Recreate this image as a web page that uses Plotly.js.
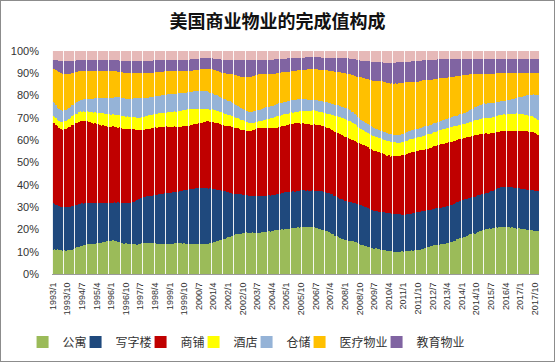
<!DOCTYPE html>
<html><head><meta charset="utf-8">
<script src="https://cdn.plot.ly/plotly-3.0.1.min.js"></script>
<style>html,body{margin:0;padding:0;background:#fff}#chart{width:555px;height:362px;box-sizing:border-box;border:1px solid #8c8c8c;}</style>
</head><body><div id="chart"></div><script>
// categories: monthly, 1993/1 .. 2017/12
var years = [1993,1994,1995,1996,1997,1998,1999,2000,2001,2002,2003,2004,2005,2006,2007,2008,2009,2010,2011,2012,2013,2014,2015,2016,2017];
var months = [];
years.forEach(function(y){ for (var m = 1; m <= 12; m++) months.push(y + '/' + m); });

var tickLabels = ['1993/1','1993/10','1994/7','1995/4','1996/1','1996/10','1997/7','1998/4','1999/1','1999/10','2000/7','2001/4','2002/1','2002/10','2003/7','2004/4','2005/1','2005/10','2006/7','2007/4','2008/1','2008/10','2009/7','2010/4','2011/1','2011/10','2012/7','2013/4','2014/1','2014/10','2015/7','2016/4','2017/1','2017/10'];

var seriesNames = ['公寓','写字楼','商铺','酒店','仓储','医疗物业','教育物业','其他'];

var apartment = [
11.0,11.3,10.8,11.2,10.7,10.8,10.4,10.7,10.3,10.6,10.6,10.9,
10.9,11.4,11.5,12.0,12.1,12.6,12.6,13.0,13.0,13.3,13.3,13.6,
13.5,13.6,13.6,13.9,13.8,14.1,13.9,14.3,14.3,14.7,14.7,15.0,
14.9,15.2,14.8,14.8,14.4,14.3,13.9,13.9,13.6,13.7,13.4,13.5,
13.4,13.5,13.5,13.6,13.2,13.5,13.4,13.8,13.7,14.0,13.9,14.2,
13.9,14.0,13.7,13.8,13.5,13.6,13.4,13.5,13.4,13.7,13.4,13.5,
13.4,13.7,13.6,13.9,13.8,14.1,13.9,14.0,13.7,13.8,13.5,13.6,
13.4,13.5,13.2,13.5,13.4,13.6,13.4,13.5,13.2,13.5,13.4,13.6,
13.6,14.0,14.0,14.4,14.4,14.8,14.9,15.3,15.4,15.8,15.9,16.3,
16.4,16.8,16.8,17.2,17.3,17.7,17.7,18.1,18.1,18.5,18.4,18.7,
18.4,18.5,18.4,18.7,18.3,18.6,18.5,18.6,18.5,18.8,18.7,19.0,
18.9,19.2,19.1,19.4,19.3,19.6,19.5,19.8,19.7,20.0,19.9,20.2,
20.1,20.4,20.2,20.5,20.4,20.7,20.6,20.9,20.8,21.1,20.9,21.2,
21.0,21.3,21.0,21.1,20.9,21.0,20.6,20.7,20.3,20.3,19.9,19.8,
19.3,19.2,18.7,18.6,18.0,17.8,17.2,17.0,16.4,16.3,15.7,15.6,
15.1,15.1,14.8,14.9,14.6,14.7,14.4,14.3,13.8,13.7,13.2,13.1,
12.7,12.7,12.3,12.3,11.9,11.9,11.5,11.5,11.1,11.1,10.8,10.9,
10.6,10.7,10.4,10.5,10.2,10.3,10.0,10.1,9.9,10.1,9.8,10.1,
9.9,10.2,10.1,10.4,10.3,10.6,10.5,10.8,10.7,11.0,10.9,11.3,
11.3,11.7,11.7,12.1,12.1,12.5,12.5,12.9,12.9,13.2,13.1,13.4,
13.3,13.6,13.6,14.0,14.0,14.4,14.4,14.9,15.0,15.5,15.6,16.1,
16.2,16.7,16.8,17.3,17.4,17.8,17.8,18.2,18.2,18.6,18.7,19.2,
19.3,19.8,19.9,20.2,20.1,20.4,20.3,20.6,20.5,20.8,20.7,21.0,
20.9,21.1,21.0,21.1,20.9,21.1,20.8,20.9,20.6,20.7,20.4,20.5,
20.2,20.3,20.0,20.1,19.8,19.9,19.6,19.7,19.4,19.4,19.1,19.1];

var office = [
21.0,20.7,20.5,19.9,19.9,19.5,19.6,19.3,19.6,19.5,19.6,19.3,
19.6,19.3,19.4,19.1,19.2,18.9,19.0,18.7,18.8,18.6,18.7,18.4,
18.5,18.3,18.4,18.1,18.2,17.9,18.1,17.8,17.8,17.4,17.4,17.0,
17.1,16.9,17.3,17.3,17.7,17.7,18.1,17.9,18.2,18.1,18.4,18.3,
18.6,18.7,19.2,19.4,19.9,20.1,20.6,20.5,20.8,20.7,21.0,20.9,
21.1,21.1,21.6,21.7,22.1,22.2,22.6,22.5,22.8,22.7,23.0,22.9,
23.1,22.9,23.1,22.9,23.1,22.9,23.1,23.1,23.6,23.6,24.1,24.1,
24.6,24.5,24.8,24.7,25.0,24.9,25.1,24.9,25.1,24.9,25.1,24.9,
24.8,24.3,24.2,23.7,23.6,23.0,22.8,22.2,22.0,21.4,21.1,20.5,
20.3,19.7,19.5,18.9,18.6,18.2,18.1,17.6,17.5,17.1,17.1,16.8,
16.9,16.6,16.6,16.4,16.6,16.5,16.6,16.4,16.5,16.2,16.3,16.0,
16.1,15.9,16.1,15.9,16.1,15.9,16.2,16.1,16.4,16.3,16.6,16.4,
16.6,16.4,16.6,16.4,16.6,16.4,16.6,16.4,16.6,16.4,16.6,16.4,
16.6,16.4,16.6,16.4,16.6,16.5,16.8,16.7,17.0,16.9,17.1,17.0,
17.3,17.2,17.5,17.4,17.6,17.4,17.6,17.4,17.6,17.4,17.6,17.4,
17.6,17.4,17.6,17.4,17.6,17.4,17.6,17.4,17.6,17.4,17.6,17.4,
17.5,17.2,17.3,17.0,17.1,16.9,17.1,16.9,17.1,16.9,17.1,16.9,
17.1,16.9,17.1,16.9,17.1,16.9,17.1,16.9,17.0,16.7,16.8,16.5,
16.6,16.4,16.6,16.4,16.6,16.4,16.7,16.6,16.9,16.8,17.1,16.8,
16.9,16.6,16.7,16.4,16.6,16.4,16.6,16.4,16.6,16.4,16.6,16.4,
16.6,16.4,16.6,16.4,16.6,16.4,16.6,16.5,16.8,16.7,17.0,16.9,
17.0,16.7,16.8,16.5,16.6,16.4,16.6,16.4,16.6,16.4,16.6,16.3,
16.4,16.1,16.2,15.9,16.3,16.3,16.7,16.7,17.1,17.1,17.5,17.5,
17.9,17.9,18.1,17.9,18.1,17.9,18.1,17.9,18.1,17.9,18.1,17.9,
18.1,17.9,18.1,17.9,18.1,17.9,18.1,17.9,18.1,17.9,18.1,17.9];

var retail = [
36.5,36.8,36.2,35.9,35.5,35.3,35.0,35.4,35.1,35.5,35.8,36.2,
36.5,36.3,36.9,36.6,37.2,37.0,36.7,37.1,36.5,36.8,36.2,36.0,
35.8,35.5,35.9,35.2,35.0,34.7,34.5,34.9,34.3,34.6,34.0,34.2,
34.0,34.3,33.8,34.1,33.6,33.9,33.5,33.2,33.6,33.1,33.4,33.0,
33.0,32.5,32.8,32.0,31.6,31.2,30.5,30.8,30.3,30.7,30.4,30.6,
30.5,30.8,30.2,30.5,30.1,30.4,30.0,29.7,30.1,29.8,29.6,29.9,
29.5,29.8,29.3,29.6,29.1,29.4,29.0,28.7,29.1,28.8,28.5,28.9,
28.5,28.8,28.4,28.9,28.7,29.2,29.0,29.4,29.3,29.7,29.5,30.0,
30.2,29.9,30.3,30.0,29.7,30.1,29.8,29.5,29.9,29.6,29.4,29.7,
29.5,29.8,29.3,29.6,29.5,29.2,29.4,29.1,29.0,29.3,29.2,28.9,
29.0,28.8,29.2,29.5,29.8,30.1,30.3,30.5,30.2,30.6,30.4,30.7,
30.5,30.3,30.7,30.2,30.4,30.0,29.8,30.2,29.9,30.1,30.0,29.7,
30.0,30.3,30.1,30.5,30.2,30.6,30.4,30.1,30.3,29.9,30.0,29.8,
30.1,29.7,29.9,29.6,29.5,29.8,29.4,29.7,29.3,29.6,29.5,29.2,
29.4,29.1,29.0,29.3,28.9,29.2,29.0,28.7,29.1,28.8,28.6,28.9,
28.7,28.5,28.2,28.4,27.9,28.1,27.5,27.8,27.4,27.7,27.3,27.6,
27.5,27.2,27.4,27.0,27.3,26.9,27.1,26.8,26.5,26.7,26.3,26.5,
26.0,25.8,25.5,25.7,25.4,25.9,25.6,26.0,25.8,26.2,26.0,26.4,
26.6,26.9,27.0,27.3,27.1,27.5,27.3,27.6,27.4,27.7,27.5,27.3,
27.6,27.4,27.7,27.5,27.8,27.6,27.9,28.1,27.8,28.2,28.0,28.3,
28.5,28.2,28.6,28.4,28.7,28.5,28.3,28.6,28.2,27.9,28.1,27.7,
27.5,27.8,27.4,27.7,27.5,27.3,27.6,27.4,27.7,27.5,27.2,27.4,
27.1,27.3,27.0,26.8,26.5,26.2,26.0,25.8,25.5,25.3,25.1,25.0,
25.0,24.8,25.1,24.9,25.2,25.0,24.9,25.2,25.4,25.3,25.6,25.5,
25.8,25.6,26.0,25.8,26.1,25.9,26.2,25.8,26.0,25.7,25.5,25.3];

var hotel = [
3.0,2.8,3.1,2.9,3.2,3.4,3.5,3.3,3.6,3.4,3.7,3.9,
4.0,4.1,3.9,4.3,4.2,4.5,4.4,4.6,4.3,4.5,4.7,4.5,
4.6,4.8,4.9,5.1,5.0,5.3,5.5,5.2,5.6,5.4,5.7,5.5,
5.5,5.3,5.6,5.4,5.7,5.5,5.5,5.8,5.6,5.4,5.7,5.5,
5.5,5.2,5.4,5.7,5.5,5.3,5.5,5.8,5.6,5.9,5.7,6.0,
6.0,5.8,6.1,5.9,6.2,6.0,6.0,6.3,6.1,6.4,6.2,6.5,
6.5,6.6,6.8,6.7,6.9,7.0,7.0,7.1,7.3,7.2,7.4,7.5,
7.5,7.4,7.2,7.0,6.9,6.7,6.5,6.3,6.1,5.9,5.7,5.5,
5.6,5.4,5.5,5.7,5.5,5.6,5.4,5.5,5.6,5.4,5.5,5.3,
5.2,5.1,5.0,5.0,4.9,4.7,4.5,4.4,4.2,4.1,4.0,3.9,
3.8,3.7,3.5,3.4,3.3,3.2,3.1,3.0,3.1,3.3,3.5,3.7,
3.9,4.0,4.2,4.4,4.6,4.8,5.0,5.1,5.0,4.9,5.0,5.1,
5.0,4.9,5.0,5.1,5.0,5.1,5.2,5.3,5.4,5.5,5.5,5.6,
5.8,6.0,6.2,6.4,6.5,6.4,6.3,6.1,6.0,6.0,6.0,6.1,
6.2,6.3,6.4,6.5,6.7,6.9,7.1,7.3,7.5,7.6,7.7,7.8,
7.9,8.0,8.0,7.9,7.8,7.7,7.5,7.3,7.1,6.9,6.7,6.5,
6.6,6.4,6.5,6.7,6.4,6.6,6.5,6.3,6.6,6.4,6.5,6.6,
6.4,6.6,6.5,6.3,6.6,6.4,6.3,6.2,6.1,6.0,6.1,5.9,
6.0,6.1,5.9,6.0,6.2,5.9,6.0,6.1,5.9,6.0,6.1,6.1,
6.2,6.3,6.4,6.5,6.4,6.6,6.5,6.4,6.6,6.5,6.4,6.6,
6.5,6.4,6.6,6.5,6.3,6.6,6.5,6.4,6.6,6.5,6.4,6.6,
6.5,6.4,6.6,6.5,6.4,6.6,6.5,6.4,6.6,6.6,6.7,6.8,
6.9,7.0,7.1,6.9,7.0,7.1,6.9,7.0,7.1,7.2,7.3,7.4,
7.5,7.4,7.6,7.5,7.4,7.6,7.6,7.7,7.8,7.9,8.0,7.9,
7.8,7.7,7.6,7.5,7.4,7.3,7.2,7.1,7.0,6.9,6.7,6.5];

var warehouse = [
6.5,6.2,5.9,5.6,5.4,5.2,5.0,5.0,4.9,5.0,5.0,5.1,
5.0,4.9,5.0,5.1,5.0,5.0,5.2,5.3,5.5,5.6,5.8,6.0,
6.1,6.3,6.4,6.6,6.7,6.9,7.0,7.1,7.2,7.3,7.4,7.5,
7.5,7.6,7.7,7.8,7.9,8.0,8.0,8.0,8.1,8.0,7.9,8.0,
8.0,8.2,8.4,8.6,8.8,9.0,9.0,8.8,8.6,8.4,8.2,8.0,
8.0,8.1,7.9,8.0,8.1,8.0,7.9,8.0,8.1,8.0,7.9,8.0,
8.0,8.1,7.9,8.0,8.1,8.0,8.0,7.9,7.8,7.7,7.6,7.5,
7.5,7.6,7.7,7.8,7.9,8.0,8.0,8.1,8.0,7.9,8.0,8.0,
7.8,7.6,7.4,7.2,7.0,6.9,6.8,6.7,6.6,6.5,6.5,6.4,
6.3,6.2,6.1,6.0,6.0,5.8,5.6,5.4,5.2,5.0,5.0,5.0,
5.0,5.0,4.9,5.0,5.1,5.0,5.0,5.1,5.2,5.3,5.4,5.5,
5.5,5.4,5.5,5.6,5.5,5.5,5.4,5.5,5.6,5.5,5.4,5.5,
5.5,5.6,5.5,5.4,5.5,5.6,5.5,5.4,5.5,5.6,5.5,5.4,
5.3,5.1,4.9,4.7,4.5,4.6,4.7,4.8,4.9,5.0,5.0,5.0,
5.0,5.1,5.0,4.9,5.0,5.1,5.0,4.9,5.0,5.1,5.0,5.0,
5.0,5.0,5.0,4.9,4.8,4.7,4.6,4.5,4.4,4.3,4.2,4.1,
4.0,4.0,4.0,4.0,4.0,3.9,3.8,3.7,3.6,3.5,3.5,3.5,
3.5,3.6,3.5,3.4,3.5,3.6,3.5,3.4,3.5,3.6,3.5,3.5,
3.5,3.6,3.7,3.8,3.9,4.0,4.0,4.1,4.0,3.9,4.0,4.0,
4.0,4.1,4.0,3.9,4.0,4.1,4.0,3.9,4.0,4.1,4.0,4.0,
4.0,4.0,4.1,4.2,4.3,4.4,4.5,4.5,4.5,4.5,4.5,4.6,
4.7,4.8,4.9,5.0,5.1,5.3,5.5,5.7,5.8,6.0,6.1,6.2,
6.3,6.4,6.5,6.5,6.5,6.5,6.5,6.5,6.4,6.3,6.2,6.1,
6.0,6.1,6.2,6.3,6.4,6.5,6.6,6.7,6.8,6.9,7.0,7.2,
7.5,7.8,8.1,8.5,8.8,9.1,9.4,9.7,10.0,10.5,11.0,11.5];

var medical = [
15.0,15.5,16.0,16.5,16.6,16.7,16.5,16.2,15.8,15.5,15.2,14.9,
14.5,14.2,13.9,13.6,13.3,13.0,12.9,12.8,12.7,12.6,12.5,12.5,
12.4,12.4,12.3,12.3,12.2,12.1,12.0,12.0,12.0,12.0,12.0,12.0,
12.0,11.9,11.8,11.7,11.6,11.6,11.5,11.5,11.5,11.5,11.5,11.5,
11.5,11.4,11.3,11.2,11.1,11.0,11.0,11.0,11.0,11.0,11.0,11.0,
11.0,10.9,10.8,10.7,10.6,10.5,10.5,10.5,10.5,10.5,10.5,10.5,
10.5,10.4,10.3,10.2,10.1,10.0,10.0,9.9,9.8,9.7,9.6,9.5,
9.5,9.5,9.5,9.5,9.5,9.5,9.5,9.6,9.7,9.8,9.9,10.0,
10.2,10.4,10.6,10.8,11.0,11.1,11.2,11.3,11.4,11.5,11.5,11.7,
12.0,12.2,12.5,12.8,13.0,13.3,13.6,14.0,14.3,14.7,15.0,15.3,
15.5,15.8,16.0,16.0,16.0,16.0,16.0,16.0,15.7,15.4,15.1,14.8,
14.5,14.4,14.3,14.2,14.1,14.0,13.9,13.8,13.7,13.6,13.5,13.4,
13.3,13.2,13.1,13.0,13.0,13.0,13.0,13.0,13.0,13.0,13.0,13.2,
13.4,13.6,13.8,14.0,14.0,14.0,14.0,14.0,14.0,14.0,14.0,14.1,
14.2,14.3,14.4,14.5,14.6,14.7,14.8,14.9,15.0,15.1,15.2,15.3,
15.4,15.5,15.8,16.1,16.4,16.7,17.0,17.5,18.0,18.5,19.0,19.5,
19.7,19.9,20.1,20.3,20.5,20.8,21.1,21.4,21.7,22.0,22.1,22.2,
22.3,22.4,22.5,22.6,22.7,22.8,22.9,23.0,23.0,23.0,23.0,23.0,
23.0,22.7,22.4,22.1,21.8,21.5,21.4,21.3,21.2,21.1,21.0,20.9,
20.8,20.7,20.6,20.5,20.3,20.1,19.9,19.7,19.5,19.4,19.3,19.2,
19.1,19.0,18.8,18.6,18.4,18.2,18.0,17.9,17.8,17.7,17.6,17.5,
17.3,17.1,16.9,16.7,16.5,16.1,15.7,15.3,14.9,14.5,14.2,13.9,
13.6,13.3,13.0,13.0,13.0,13.0,13.0,13.0,12.9,12.8,12.7,12.6,
12.5,12.4,12.3,12.2,12.1,12.0,11.8,11.6,11.4,11.2,11.0,10.8,
10.6,10.4,10.2,10.0,9.9,9.8,9.7,9.6,9.5,9.5,9.5,9.5];

var education = [
4.0,4.3,4.6,5.0,5.3,5.6,6.0,6.0,6.0,6.0,5.9,5.7,
5.5,5.4,5.3,5.2,5.1,5.0,5.0,5.0,5.0,5.0,5.0,5.0,
5.0,5.0,5.0,5.0,5.0,5.0,5.0,5.0,5.0,5.0,5.0,5.0,
5.0,5.0,5.0,5.0,5.0,5.0,5.0,5.1,5.2,5.3,5.4,5.5,
5.5,5.5,5.5,5.5,5.5,5.5,5.5,5.5,5.5,5.5,5.5,5.5,
5.5,5.5,5.5,5.5,5.5,5.5,5.5,5.4,5.3,5.2,5.1,5.0,
5.0,5.0,5.0,5.0,5.0,5.0,5.0,5.0,5.0,5.0,5.0,5.0,
5.0,5.0,5.0,5.0,5.0,5.0,5.0,5.0,5.0,5.0,5.0,5.0,
5.0,5.0,5.0,5.0,5.0,5.2,5.4,5.6,5.8,6.0,6.0,6.1,
6.2,6.3,6.4,6.5,6.6,6.8,7.0,7.2,7.4,7.5,7.5,7.5,
7.5,7.5,7.5,7.3,7.1,6.9,6.7,6.5,6.5,6.5,6.5,6.5,
6.5,6.5,6.5,6.5,6.5,6.5,6.4,6.3,6.2,6.1,6.0,6.0,
6.0,6.0,6.0,6.0,6.0,5.9,5.8,5.7,5.6,5.5,5.5,5.5,
5.5,5.5,5.5,5.5,5.5,5.5,5.5,5.5,5.5,5.5,5.5,5.5,
5.6,5.7,5.8,5.9,6.0,6.1,6.2,6.3,6.4,6.5,6.6,6.7,
6.8,6.9,7.0,7.1,7.2,7.3,7.4,7.5,7.5,7.5,7.5,7.5,
7.6,7.8,8.0,8.2,8.4,8.5,8.5,8.5,8.5,8.5,8.5,8.6,
8.7,8.8,8.9,9.0,9.1,9.2,9.3,9.4,9.5,9.5,9.4,9.3,
9.2,9.1,9.0,9.1,9.2,9.3,9.4,9.5,9.4,9.3,9.2,9.1,
9.0,9.0,9.0,9.0,9.0,9.0,8.9,8.8,8.7,8.6,8.5,8.5,
8.5,8.5,8.5,8.4,8.3,8.2,8.1,8.0,7.9,7.8,7.7,7.6,
7.5,7.4,7.3,7.2,7.1,7.0,7.0,7.0,7.0,7.0,7.0,7.0,
7.0,7.0,7.0,7.0,7.0,6.9,6.8,6.7,6.6,6.5,6.5,6.5,
6.5,6.5,6.5,6.5,6.5,6.5,6.5,6.5,6.5,6.5,6.5,6.5,
6.5,6.5,6.5,6.5,6.5,6.5,6.5,6.5,6.5,6.5,6.5,6.5];

var other = [
4.0,4.0,4.1,4.2,4.3,4.4,4.5,4.5,4.5,4.5,4.5,4.5,
4.5,4.4,4.3,4.2,4.1,4.0,4.0,4.0,4.0,4.0,4.0,4.0,
4.0,4.0,4.0,4.0,4.0,4.0,4.0,4.0,4.0,4.0,4.0,4.0,
4.0,4.0,4.0,4.1,4.2,4.3,4.4,4.5,4.5,4.5,4.5,4.5,
4.5,4.5,4.5,4.5,4.5,4.5,4.5,4.5,4.5,4.5,4.5,4.5,
4.4,4.3,4.2,4.1,4.0,4.0,4.0,4.0,4.0,4.0,4.0,4.0,
4.0,4.0,4.0,4.0,4.0,4.0,4.0,4.0,4.0,4.0,4.0,4.0,
3.9,3.8,3.7,3.6,3.5,3.5,3.4,3.3,3.2,3.1,3.0,3.0,
3.1,3.2,3.3,3.4,3.5,3.6,3.7,3.8,3.9,4.0,4.0,4.0,
4.0,4.0,4.0,4.0,4.0,4.0,4.0,4.0,4.0,4.0,4.0,4.0,
4.0,4.0,4.0,4.0,4.0,4.0,4.0,4.0,4.0,4.0,4.0,4.0,
4.0,4.0,4.0,4.0,4.0,3.8,3.6,3.5,3.5,3.5,3.5,3.5,
3.4,3.3,3.2,3.1,3.0,3.0,3.0,3.0,3.0,3.0,3.0,3.0,
2.9,2.8,2.7,2.6,2.5,2.5,2.6,2.7,2.8,2.9,3.0,3.0,
3.0,3.0,3.0,3.0,3.0,3.0,3.0,3.0,3.0,3.0,3.0,3.0,
3.1,3.2,3.3,3.4,3.5,3.6,3.8,4.0,4.1,4.2,4.3,4.4,
4.5,4.5,4.6,4.7,4.8,4.9,5.0,5.0,5.0,5.0,5.0,5.1,
5.2,5.3,5.4,5.5,5.5,5.4,5.3,5.2,5.1,5.0,5.0,5.0,
5.0,5.0,4.9,4.8,4.7,4.6,4.5,4.5,4.5,4.5,4.4,4.3,
4.2,4.1,4.0,4.0,4.0,4.0,4.0,4.0,3.9,3.8,3.7,3.6,
3.5,3.5,3.5,3.5,3.5,3.5,3.5,3.5,3.5,3.5,3.5,3.5,
3.5,3.5,3.5,3.5,3.5,3.5,3.5,3.5,3.5,3.5,3.5,3.5,
3.5,3.5,3.5,3.5,3.5,3.5,3.5,3.5,3.5,3.5,3.5,3.5,
3.5,3.5,3.5,3.5,3.5,3.5,3.5,3.5,3.5,3.5,3.5,3.5,
3.5,3.5,3.5,3.5,3.5,3.5,3.5,3.5,3.5,3.5,3.5,3.5];

var colors = ['#9BBB59','#1F497D','#C00000','#FFFF00','#95B3D7','#FFC000','#8064A2','#E6B9B8'];
var values = [apartment, office, retail, hotel, warehouse, medical, education, other];
// legend entry widths (px) so the one-row legend is compact like the original
var legendWidths = [8, 20, 8, 8, 8, 32, 56, 8];

var xIdx = months.map(function(_, i){ return i; });
var traces = values.map(function(v, k){
  return {
    type: 'bar', x: xIdx, y: v, name: seriesNames[k],
    marker: {color: colors[k], line: {width: 0}},
    showlegend: k < 7, legendwidth: legendWidths[k], hoverinfo: 'skip'
  };
});

var layout = {
  width: 553, height: 360,
  margin: {l: 51, r: 15, t: 50, b: 87},
  paper_bgcolor: '#ffffff', plot_bgcolor: '#ffffff',
  barmode: 'stack', barnorm: 'percent', bargap: 0,
  font: {family: 'Liberation Sans, Arial, sans-serif', color: '#333333'},
  title: {
    text: '美国商业物业的完成值构成',
    font: {family: 'Noto Sans CJK SC, sans-serif', size: 18, color: '#111111', weight: 'bold'},
    x: 0.5, xanchor: 'center', xref: 'container',
    y: 0.942, yanchor: 'middle', yref: 'container'
  },
  xaxis: {
    range: [-0.5, months.length - 0.5],
    tickmode: 'array',
    tickvals: tickLabels.map(function(l){ return months.indexOf(l); }),
    ticktext: tickLabels,
    tickangle: -90,
    tickfont: {size: 9, family: 'Liberation Sans, Arial, sans-serif', color: '#333333'},
    ticks: '', ticklabelstandoff: 4,
    showgrid: false, zeroline: false,
    showline: true, linecolor: '#9a9a9a', linewidth: 1,
    layer: 'above traces',
    minor: {tick0: -0.5, dtick: 7, ticks: 'inside', ticklen: 223, tickwidth: 1, tickcolor: 'rgba(255,255,255,0.9)', showgrid: false}
  },
  yaxis: {
    range: [0, 100],
    tickmode: 'array',
    tickvals: [0,10,20,30,40,50,60,70,80,90,100],
    ticktext: ['0%','10%','20%','30%','40%','50%','60%','70%','80%','90%','100%'],
    tickfont: {size: 11, family: 'Liberation Sans, Arial, sans-serif', color: '#333333'},
    ticks: '', ticklabelstandoff: 12,
    showgrid: false, zeroline: false, showline: false, fixedrange: true
  },
  showlegend: true,
  legend: {
    orientation: 'h', traceorder: 'normal',
    x: 0.039, xanchor: 'left', xref: 'container',
    y: 0.053, yanchor: 'middle', yref: 'container',
    font: {family: 'Noto Sans CJK SC, sans-serif', size: 12, color: '#333333'},
    itemwidth: 30, bgcolor: 'rgba(0,0,0,0)'
  }
};

Plotly.newPlot('chart', traces, layout, {displayModeBar: false, staticPlot: true});
</script></body></html>
